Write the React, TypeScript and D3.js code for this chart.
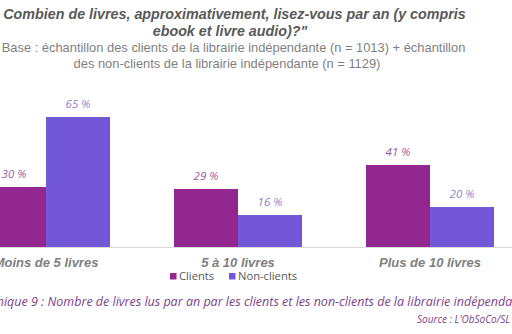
import React from "react";
import * as d3 from "d3";

const categories = ["Moins de 5 livres", "5 à 10 livres", "Plus de 10 livres"];
const seriesNames = ["Clients", "Non-clients"];
const clients = [30, 29, 41];
const nonClients = [65, 16, 20];
const titleLines = [
  "Combien de livres, approximativement, lisez-vous par an (y compris",
  "ebook et livre audio)?\"",
];
const subtitleLines = [
  "Base : échantillon des clients de la librairie indépendante (n = 1013) + échantillon",
  "des non-clients de la librairie indépendante (n = 1129)",
];
const caption = "Graphique 9 : Nombre de livres lus par an par les clients et les non-clients de la librairie indépendante";
const source = "Source : L'ObSoCo/SL";

const W = 512;
const H = 334;
const barColors = ["#92278f", "#7257d7"];
const labelColors = ["#9b5a9b", "#8b80cf"];

export default function App() {
  const baseline = 247;
  const x0 = d3
    .scaleBand<string>()
    .domain(categories)
    .range([-50, 526])
    .paddingInner(1 / 3)
    .paddingOuter(1 / 6);
  const x1 = d3.scaleBand<string>().domain(seriesNames).range([0, x0.bandwidth()]);
  const y = d3.scaleLinear().domain([0, 100]).range([baseline, baseline - 200]);
  const series = [clients, nonClients];

  return (
    <svg
      width={W}
      height={H}
      style={{ position: "absolute", left: 0, top: 0, background: "#fff" }}
    >
      <rect x={0} y={0} width={W} height={H} fill="#fff" />
      {titleLines.map((t, i) => (
        <text
          key={"t" + i}
          x={i === 0 ? 234.5 : 230}
          y={19 + i * 17}
          textAnchor="middle"
          fontFamily="Liberation Sans, Arial, sans-serif"
          fontWeight="bold"
          fontStyle="italic"
          fontSize={14.3}
          fill="#595959"
        >
          {t}
        </text>
      ))}
      {subtitleLines.map((t, i) => (
        <text
          key={"s" + i}
          x={i === 0 ? 233.5 : 227}
          y={52 + i * 16}
          textAnchor="middle"
          fontFamily="Liberation Sans, Arial, sans-serif"
          fontSize={12.9}
          fill="#7f7f7f"
        >
          {t}
        </text>
      ))}
      {categories.map((c, ci) =>
        series.map((vals, si) => {
          const bx = (x0(c) as number) + (x1(seriesNames[si]) as number);
          const v = vals[ci];
          return (
            <g key={c + si}>
              <rect
                x={bx}
                y={y(v)}
                width={x1.bandwidth()}
                height={baseline - y(v)}
                fill={barColors[si]}
              />
              <text
                x={bx + x1.bandwidth() / 2}
                y={y(v) - 9}
                textAnchor="middle"
                fontFamily="Open Sans, sans-serif"
                fontStyle="italic"
                fontSize={11.5}
                fill={labelColors[si]}
              >
                {v + " %"}
              </text>
            </g>
          );
        })
      )}
      <line x1={0} x2={W} y1={baseline + 0.5} y2={baseline + 0.5} stroke="#d9d9d9" strokeWidth={1} />
      {categories.map((c) => (
        <text
          key={"c" + c}
          x={(x0(c) as number) + x0.bandwidth() / 2}
          y={267}
          textAnchor="middle"
          fontFamily="Liberation Sans, Arial, sans-serif"
          fontWeight="bold"
          fontStyle="italic"
          fontSize={13}
          fill="#7f7f7f"
        >
          {c}
        </text>
      ))}
      {seriesNames.map((s, i) => {
        const lx = i === 0 ? 170 : 229;
        return (
          <g key={"l" + s}>
            <rect x={lx} y={273} width={6.5} height={6.5} fill={barColors[i]} />
            <text
              x={lx + 9}
              y={280}
              fontFamily="Open Sans, sans-serif"
              fontSize={11.2}
              fill="#595959"
            >
              {s}
            </text>
          </g>
        );
      })}
      <text
        x={-31}
        y={306}
        fontFamily="Open Sans, sans-serif"
        fontStyle="italic"
        fontSize={12.5}
        fill="#7b3f8c"
      >
        {caption}
      </text>
      <text
        x={417}
        y={323}
        fontFamily="Open Sans, sans-serif"
        fontStyle="italic"
        fontSize={10}
        fill="#7b3f8c"
      >
        {source}
      </text>
    </svg>
  );
}
